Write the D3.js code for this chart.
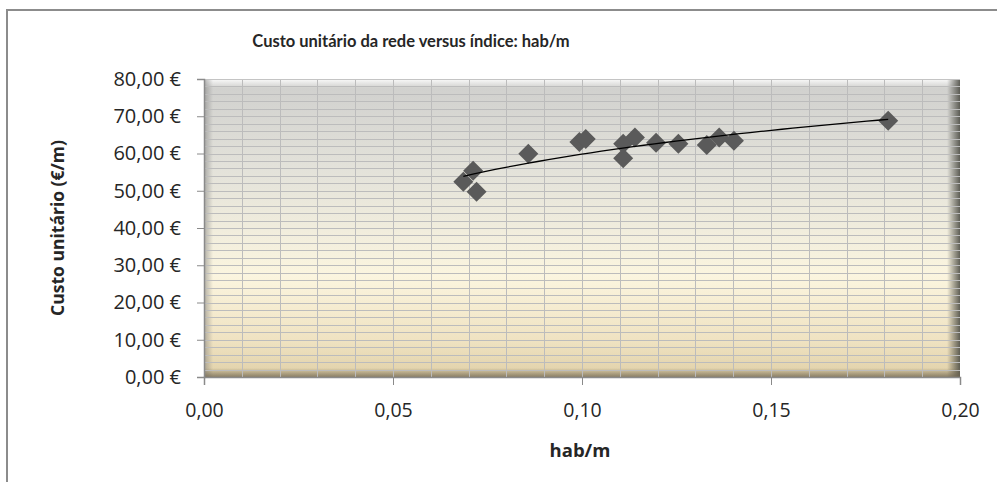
<!DOCTYPE html>
<html>
<head>
<meta charset="utf-8">
<script src="https://cdn.jsdelivr.net/npm/d3@7"></script>
<style>
  body { margin: 0; background: #fff; }
  text { fill: #262626; }
</style>
</head>
<body>
<div id="chart"></div>
<script>
// values
var habM  = [0.0686, 0.0712, 0.0721, 0.0858, 0.0993, 0.1010, 0.1109, 0.1109, 0.1140, 0.1196, 0.1255, 0.1330, 0.1363, 0.1402, 0.1810]
var custo = [52.4, 55.4, 49.7, 59.9, 63.1, 63.9, 62.6, 58.7, 64.3, 62.9, 62.6, 62.3, 64.3, 63.4, 68.8]

var xTicks = [0, 0.05, 0.10, 0.15, 0.20]
var yTicks = [0, 10, 20, 30, 40, 50, 60, 70, 80]

var title = "Custo unitário da rede versus índice: hab/m"
var xTitle = "hab/m"
var yTitle = "Custo unitário (€/m)"

var W = 997, H = 482
var margin = {top: 79, left: 204}
var width = 756, height = 298

var points = habM.map(function(d, i) { return {x: d, y: custo[i]} })

var x = d3.scaleLinear().domain([0, 0.2]).range([0, width])
var y = d3.scaleLinear().domain([0, 80]).range([height, 0])

var svg = d3.select("#chart").append("svg")
  .attr("width", W)
  .attr("height", H)
  .style("font-family", "'Open Sans', sans-serif")

// chart frame
svg.append("rect")
  .attr("x", 7).attr("y", 10)
  .attr("width", W + 20).attr("height", H + 20)
  .attr("fill", "#fff")
  .attr("stroke", "#8c8c8c")
  .attr("stroke-width", 2)

var defs = svg.append("defs")

function grad(id, x2, y2, stops) {
  var g = defs.append("linearGradient").attr("id", id)
    .attr("x1", 0).attr("y1", 0).attr("x2", x2).attr("y2", y2)
  stops.forEach(function(s) {
    g.append("stop").attr("offset", s[0]).attr("stop-color", s[1]).attr("stop-opacity", s[2] == null ? 1 : s[2])
  })
}

grad("bg", 0, 1, [[0, "#cfcfcd"], [0.3, "#e3e2da"], [0.66, "#fbf5df"], [0.88, "#efe2c1"], [1, "#e0d0a8"]])
grad("bevTop", 0, 1, [[0, "#ffffff", 0.9], [1, "#ffffff", 0]])
grad("bevLeft", 1, 0, [[0, "#7a7a7a", 0.55], [1, "#7a7a7a", 0]])
grad("bevRight", 1, 0, [[0, "#4e4e46", 0], [1, "#4e4e46", 0.9]])
grad("bevBottom", 0, 1, [[0, "#6e6450", 0], [1, "#6e6450", 0.75]])

var g = svg.append("g")
  .attr("transform", "translate(" + margin.left + "," + margin.top + ")")

g.append("rect")
  .attr("width", width)
  .attr("height", height)
  .attr("fill", "url(#bg)")

// bevel edges
g.append("rect").attr("width", width).attr("height", 9).attr("fill", "url(#bevTop)")
g.append("rect").attr("width", 9).attr("height", height).attr("fill", "url(#bevLeft)")
g.append("rect").attr("x", width - 13).attr("width", 13).attr("height", height).attr("fill", "url(#bevRight)")
g.append("rect").attr("y", height - 9).attr("width", width).attr("height", 9).attr("fill", "url(#bevBottom)")

// grid: minor every 0.01 on x, every 2 on y
g.append("g")
  .selectAll("line")
  .data(d3.range(1, 20).map(function(i) { return i / 100 }))
  .join("line")
  .attr("x1", function(d) { return Math.round(x(d)) + 0.5 })
  .attr("x2", function(d) { return Math.round(x(d)) + 0.5 })
  .attr("y1", 0).attr("y2", height)
  .attr("stroke", "#bcbcbc")

g.append("g")
  .selectAll("line")
  .data(d3.range(2, 80, 2))
  .join("line")
  .attr("y1", function(d) { return Math.round(y(d)) + 0.5 })
  .attr("y2", function(d) { return Math.round(y(d)) + 0.5 })
  .attr("x1", 0).attr("x2", width)
  .attr("stroke", "#bcbcbc")

g.append("line")
  .attr("x1", 0).attr("x2", width)
  .attr("y1", 0.5).attr("y2", 0.5)
  .attr("stroke", "#c4c4c4")

// axes
var fmt = d3.format(".2f")

var yAxis = g.append("g")
  .call(d3.axisLeft(y).tickValues(yTicks).tickSize(7).tickPadding(16)
    .tickFormat(function(d) { return fmt(d).replace(".", ",") + " €" }))

var xAxis = g.append("g")
  .attr("transform", "translate(0," + height + ")")
  .call(d3.axisBottom(x).tickValues(xTicks).tickSize(8).tickPadding(18)
    .tickFormat(function(d) { return fmt(d).replace(".", ",") }))

;[xAxis, yAxis].forEach(function(a) {
  a.attr("font-family", null).attr("font-size", null)
  a.select(".domain").attr("stroke", "#8a8a8a").attr("stroke-width", 1.5)
  a.selectAll(".tick line").attr("stroke", "#8a8a8a")
  a.selectAll("text").attr("fill", "#262626")
})
yAxis.selectAll("text").style("font-size", "20px")
xAxis.selectAll("text").style("font-size", "19.5px")

// logarithmic trend line fitted to the points
var lx = points.map(function(p) { return Math.log(p.x) })
var mx = d3.mean(lx), my = d3.mean(custo)
var slope = d3.sum(lx, function(v, i) { return (v - mx) * (custo[i] - my) }) /
            d3.sum(lx, function(v) { return (v - mx) * (v - mx) })
var icpt = my - slope * mx
var xMin = d3.min(habM), xMax = d3.max(habM)
var trend = d3.range(0, 41).map(function(i) {
  var xv = xMin + (xMax - xMin) * i / 40
  return [xv, icpt + slope * Math.log(xv)]
})

// markers
g.append("g")
  .selectAll("path")
  .data(points)
  .join("path")
  .attr("d", d3.symbol(d3.symbolSquare, 200))
  .attr("transform", function(d) { return "translate(" + x(d.x) + "," + y(d.y) + ") rotate(45)" })
  .attr("fill", "#5a5a5a")

g.append("path")
  .datum(trend)
  .attr("fill", "none")
  .attr("stroke", "#000")
  .attr("stroke-width", 1.3)
  .attr("d", d3.line().x(function(d) { return x(d[0]) }).y(function(d) { return y(d[1]) }))

// titles
svg.append("text")
  .attr("x", 411).attr("y", 47)
  .attr("text-anchor", "middle")
  .style("font-family", "Lato, 'Open Sans', sans-serif")
  .style("font-size", "16.5px")
  .style("font-weight", "bold")
  .text(title)

svg.append("text")
  .attr("x", margin.left + width / 2 - 2).attr("y", 457)
  .attr("text-anchor", "middle")
  .style("font-size", "18.5px")
  .style("font-weight", "bold")
  .text(xTitle)

svg.append("text")
  .attr("transform", "translate(64," + (margin.top + height / 2) + ") rotate(-90)")
  .attr("text-anchor", "middle")
  .style("font-size", "17.5px")
  .style("font-weight", "bold")
  .text(yTitle)
</script>
</body>
</html>
